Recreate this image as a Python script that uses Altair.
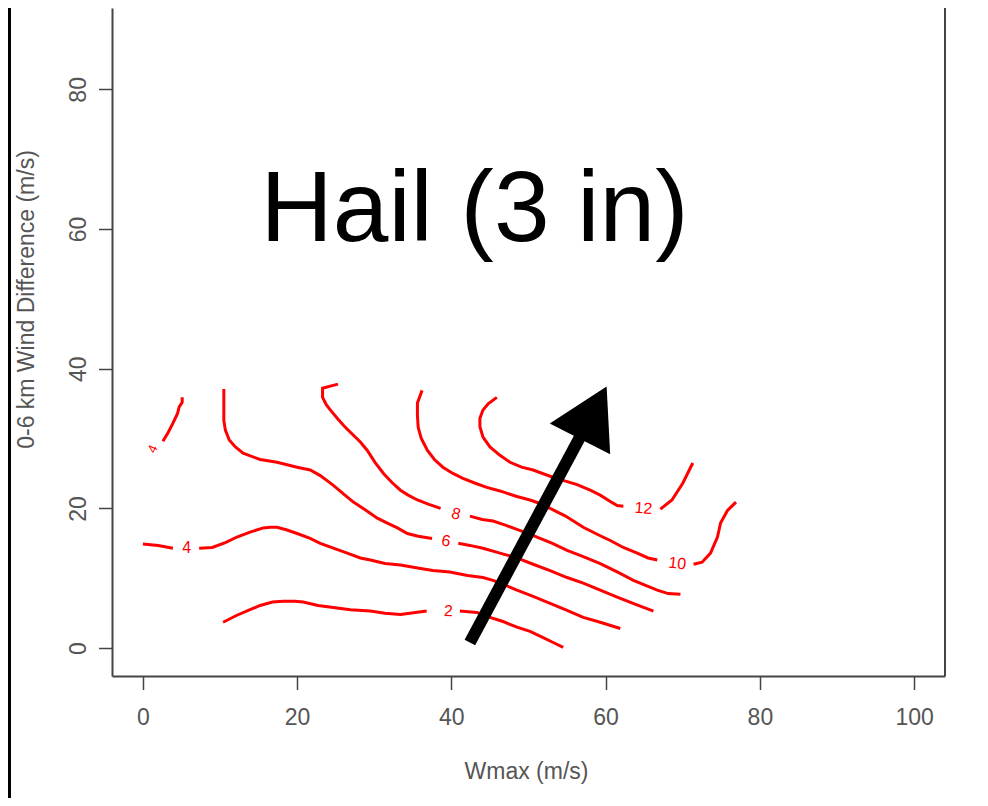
import altair as alt
import pandas as pd

# ---- contour segments (x = Wmax m/s, y = 0-6 km wind difference m/s) ----
c2a_x = [10.4, 12.2, 13.9, 15.2, 16.8, 18.2, 19.7, 20.8, 22.7, 24.7, 26.9, 29.5, 31.4, 33.4, 36.8]
c2a_y = [3.7, 4.7, 5.5, 6.1, 6.6, 6.7, 6.7, 6.6, 6.1, 5.8, 5.5, 5.3, 5.0, 4.8, 5.3]
c2b_x = [41.1, 43.3, 45.0, 46.7, 48.5, 50.2, 51.9, 53.2, 54.5]
c2b_y = [5.3, 5.1, 4.4, 3.8, 3.0, 2.4, 1.5, 0.8, 0.1]

c4a_x = [0.0, 2.0, 3.9]
c4a_y = [14.9, 14.7, 14.3]
c4b_x = [7.3, 9.0, 10.7, 12.2, 13.9, 15.6, 16.5, 17.4, 18.7, 20.0, 21.7, 23.0, 24.7, 26.5,
         28.2, 29.5, 31.4, 33.4, 36.0, 37.6, 39.8, 42.1, 44.1, 45.4, 47.0, 48.5, 50.6,
         52.8, 55.0, 57.1, 59.3, 61.9]
c4b_y = [14.3, 14.4, 15.1, 15.9, 16.6, 17.2, 17.3, 17.3, 16.9, 16.4, 15.7, 15.0, 14.3, 13.6,
         12.9, 12.6, 12.1, 11.9, 11.4, 11.1, 10.9, 10.4, 10.1, 9.7, 9.0, 8.3, 7.4,
         6.4, 5.4, 4.4, 3.7, 2.8]
c4c_x = [2.6, 3.3, 3.9, 4.5, 4.7, 5.1, 5.1]
c4c_y = [29.6, 30.9, 32.2, 33.6, 34.5, 35.2, 35.9]

c6a_x = [10.5, 10.5, 10.5, 10.7, 11.2, 12.0, 13.0, 15.2, 17.4, 20.0, 21.7, 23.0, 24.7, 26.2,
         27.3, 29.1, 30.4, 31.7, 33.0, 34.3, 35.7, 37.5]
c6a_y = [37.1, 34.8, 32.6, 31.2, 29.8, 28.8, 27.9, 27.0, 26.6, 25.9, 25.5, 24.7, 23.3, 21.9,
         20.9, 19.6, 18.6, 17.9, 17.2, 16.4, 16.0, 15.7]
c6b_x = [40.9, 42.4, 44.1, 46.3, 48.5, 50.6, 52.8, 55.0, 57.1, 59.3, 61.5, 63.8, 66.2]
c6b_y = [15.0, 14.7, 14.3, 13.6, 12.9, 12.0, 11.1, 10.1, 9.3, 8.3, 7.3, 6.3, 5.3]

c8a_x = [25.3, 24.3, 23.3, 23.3, 23.8, 24.3, 25.2, 26.0, 26.9, 28.2, 29.1, 30.1, 31.2, 32.3,
         33.4, 34.4, 35.6, 37.0, 38.6]
c8a_y = [37.8, 37.5, 37.2, 35.9, 34.8, 34.1, 32.9, 31.9, 30.9, 29.5, 28.3, 26.6, 25.0, 23.7,
         22.6, 21.9, 21.2, 20.6, 20.0]
c8b_x = [42.4, 44.0, 45.4, 47.0, 48.5, 50.0, 51.1, 53.1, 55.0, 57.1, 59.3, 61.5, 63.6, 65.1,
         66.7, 68.1, 69.7]
c8b_y = [18.9, 18.4, 18.2, 17.6, 17.0, 16.4, 15.9, 15.0, 14.0, 13.1, 12.1, 10.9, 9.7, 9.0,
         8.3, 7.8, 7.7]

c10a_x = [36.2, 35.6, 35.6, 35.7, 36.1, 36.9, 37.8, 38.9, 40.2, 41.5, 43.1, 44.6, 46.3, 48.5,
          50.2, 51.5, 52.8, 54.8, 57.1, 58.9, 60.6, 62.3, 64.1, 65.5, 66.7]
c10a_y = [36.9, 35.1, 33.3, 31.6, 30.0, 28.3, 27.0, 25.9, 25.0, 24.3, 23.6, 23.0, 22.5, 21.7,
          21.2, 20.7, 20.0, 18.9, 17.3, 16.3, 15.4, 14.4, 13.6, 12.9, 12.6]
c10b_x = [71.4, 72.5, 73.6, 74.5, 74.9, 75.8, 76.9]
c10b_y = [12.0, 12.3, 13.6, 15.9, 17.9, 19.7, 20.9]

c12a_x = [45.9, 44.8, 44.1, 43.7, 43.7, 44.1, 45.0, 46.3, 47.6, 49.1, 50.6, 52.8, 54.8, 56.3,
          58.0, 59.3, 60.6, 61.5, 62.3]
c12a_y = [35.9, 35.0, 34.1, 32.9, 31.7, 30.2, 28.8, 27.6, 26.6, 25.9, 25.5, 24.6, 23.9, 23.4,
          22.6, 21.9, 21.0, 20.4, 20.3]
c12b_x = [67.1, 68.6, 70.0, 71.3]
c12b_y = [19.9, 21.2, 23.6, 26.5]

segments = [
    ("2a", c2a_x, c2a_y), ("2b", c2b_x, c2b_y),
    ("4a", c4a_x, c4a_y), ("4b", c4b_x, c4b_y), ("4c", c4c_x, c4c_y),
    ("6a", c6a_x, c6a_y), ("6b", c6b_x, c6b_y),
    ("8a", c8a_x, c8a_y), ("8b", c8b_x, c8b_y),
    ("10a", c10a_x, c10a_y), ("10b", c10b_x, c10b_y),
    ("12a", c12a_x, c12a_y), ("12b", c12b_x, c12b_y),
]

# ---- contour labels ----
lab_text = ["4", "4", "2", "6", "8", "10", "12"]
lab_x = [1.3, 5.7, 39.6, 39.3, 40.6, 69.3, 64.9]
lab_y = [28.5, 14.3, 5.3, 15.3, 19.2, 12.1, 20.0]
lab_angle = [295, 0, 2, 10, 14, 6, 4]
lab_size = [13, 16, 16, 16, 16, 16, 16]

# ---- annotation ----
title_text = "Hail (3 in)"
title_x = [43.0]
title_y = [58.3]
arrow_x = [42.4, 57.3]
arrow_y = [0.8, 31.5]
head_x = [58.4]
head_y = [33.7]

x_ticks = [0, 20, 40, 60, 80, 100]
y_ticks = [0, 20, 40, 60, 80]

rows = []
for name, xs, ys in segments:
    for i, (xv, yv) in enumerate(zip(xs, ys)):
        rows.append({"seg": name, "i": i, "x": xv, "y": yv})
contours = pd.DataFrame(rows)
labels = pd.DataFrame({"t": lab_text, "x": lab_x, "y": lab_y, "a": lab_angle, "s": lab_size})

W, H = 833, 668
FONT = "Liberation Sans"
GREY = "#444444"
TXT = "#555555"

xscale = alt.Scale(domain=[-4, 104], nice=False, zero=False)
yscale = alt.Scale(domain=[-4, 91.65], nice=False, zero=False)

xaxis = alt.Axis(values=x_ticks, title="Wmax (m/s)", grid=False, domain=True,
                 domainColor=GREY, domainWidth=2, tickColor=GREY, tickWidth=1.5,
                 tickSize=13.5, labelFont=FONT, labelFontSize=23, labelColor=TXT,
                 labelPadding=17, labelFlush=False, labelOverlap=False,
                 titleFont=FONT, titleFontSize=23, titleFontWeight="normal",
                 titleColor=TXT, titleX=414, titleY=102, titleBaseline="alphabetic",
                 titleAlign="center")
yaxis = alt.Axis(values=y_ticks, title="0-6 km Wind Difference (m/s)", grid=False,
                 domain=True, domainColor=GREY, domainWidth=2, tickColor=GREY,
                 tickWidth=1.5, tickSize=13.5, labelFont=FONT, labelFontSize=23,
                 labelColor=TXT, labelAngle=270, labelAlign="center",
                 labelBaseline="alphabetic", labelPadding=13.5, labelFlush=False,
                 labelOverlap=False, titleFont=FONT, titleFontSize=23,
                 titleFontWeight="normal", titleColor=TXT, titleAngle=270,
                 titleX=-79, titleY=291, titleAlign="center", titleBaseline="alphabetic")

lines = alt.Chart(contours).mark_line(color="#ff0000", strokeWidth=3).encode(
    x=alt.X("x:Q", scale=xscale, axis=xaxis),
    y=alt.Y("y:Q", scale=yscale, axis=yaxis),
    detail="seg:N",
    order="i:Q",
)

lab = alt.Chart(labels).mark_text(color="#ff0000", font=FONT, align="center",
                                  baseline="middle").encode(
    x=alt.X("x:Q", scale=xscale),
    y=alt.Y("y:Q", scale=yscale),
    text="t:N",
    angle=alt.Angle("a:Q", scale=None),
    size=alt.Size("s:Q", scale=None, legend=None),
)

big = alt.Chart(pd.DataFrame({"x": title_x, "y": title_y, "t": [title_text]})).mark_text(
    fontSize=100, font=FONT, color="black", align="center", baseline="alphabetic"
).encode(x=alt.X("x:Q", scale=xscale), y=alt.Y("y:Q", scale=yscale), text="t:N")

shaft = alt.Chart(pd.DataFrame({"x": arrow_x, "y": arrow_y, "i": [0, 1]})).mark_line(
    color="black", strokeWidth=12, strokeCap="butt"
).encode(x=alt.X("x:Q", scale=xscale), y=alt.Y("y:Q", scale=yscale), order="i:Q")

head = alt.Chart(pd.DataFrame({"x": head_x, "y": head_y})).mark_point(
    shape="triangle-up", filled=True, size=4600, angle=27, color="black", opacity=1,
    strokeWidth=0
).encode(x=alt.X("x:Q", scale=xscale), y=alt.Y("y:Q", scale=yscale))

one = pd.DataFrame({"k": [0]})
right_edge = alt.Chart(one).mark_rule(color=GREY, strokeWidth=2).encode(
    x=alt.value(W), y=alt.value(0), y2=alt.value(H))
left_border = alt.Chart(one).mark_rule(color="black", strokeWidth=3).encode(
    x=alt.value(-102.5), y=alt.value(0), y2=alt.value(790))

chart = alt.layer(left_border, right_edge, lines, lab, big, shaft, head).properties(
    width=W, height=H,
    autosize=alt.AutoSizeParams(type="none"),
    padding={"left": 104, "top": 0, "right": 35, "bottom": 122},
    background="white",
).configure_view(stroke=None)

chart.save("out.html", embed_options={"renderer": "svg", "actions": False})
